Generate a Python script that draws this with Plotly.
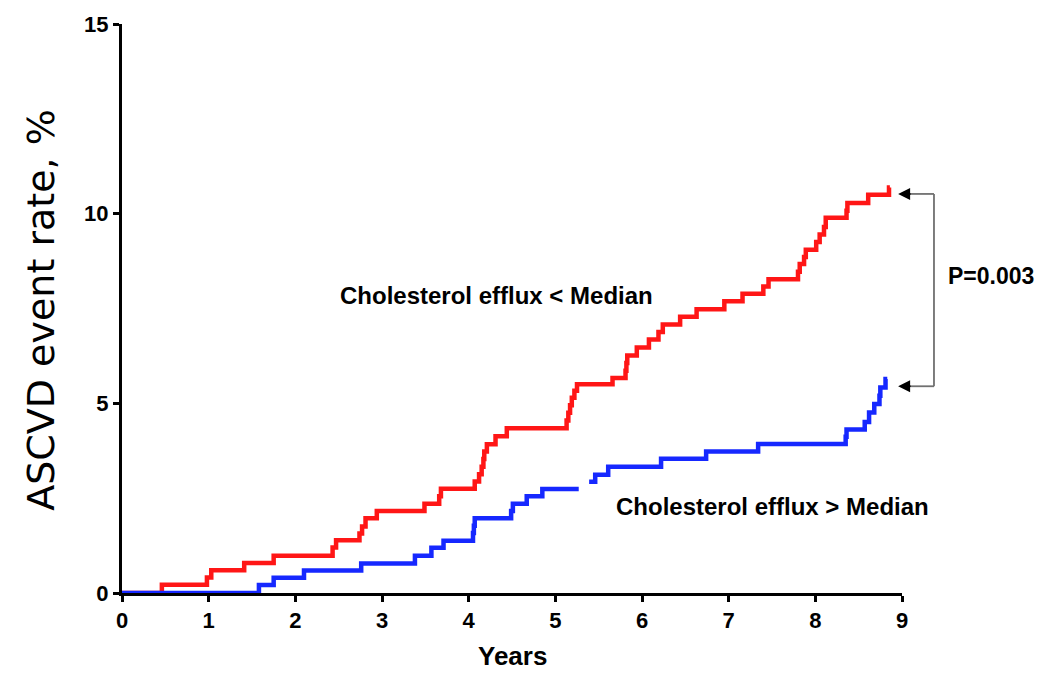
import plotly.graph_objects as go

# Kaplan-Meier style step data (years, event rate %)
red_t = [0, 0.46, 0.98, 1.03, 1.41, 1.75, 2.43, 2.47, 2.74, 2.77, 2.81, 2.94,
         3.49, 3.66, 3.68, 4.07, 4.12, 4.15, 4.17, 4.18, 4.21, 4.31, 4.44,
         5.13, 5.15, 5.17, 5.19, 5.22, 5.25, 5.66, 5.81, 5.82, 5.83,
         5.94, 6.08, 6.19, 6.24, 6.44, 6.63, 6.95, 7.16, 7.40, 7.46,
         7.80, 7.82, 7.87, 7.89, 8.01, 8.05, 8.10, 8.12, 8.36, 8.37,
         8.61, 8.85, 8.86]
red_v = [0, 0.22, 0.41, 0.60, 0.79, 0.98, 1.20, 1.39, 1.57, 1.75, 1.97, 2.16,
         2.35, 2.55, 2.75, 2.94, 3.13, 3.33, 3.53, 3.73, 3.92, 4.13, 4.34,
         4.55, 4.75, 4.95, 5.15, 5.33, 5.50, 5.67, 5.86, 6.06, 6.26,
         6.47, 6.68, 6.88, 7.08, 7.28, 7.48, 7.69, 7.89, 8.08, 8.27,
         8.47, 8.67, 8.86, 9.05, 9.25, 9.45, 9.65, 9.89, 10.08, 10.28,
         10.50, 10.69, 10.69]

blue_t = [0, 1.58, 1.75, 2.10, 2.76, 3.38, 3.57, 3.71, 4.05, 4.06, 4.07,
          4.49, 4.51, 4.67, 4.85, 5.27, None, 5.39, 5.46, 5.61,
          6.22, 6.74, 7.34, 8.35, 8.36, 8.57, 8.62, 8.68, 8.74, 8.75, 8.81, 8.83]
blue_v = [0, 0.21, 0.40, 0.59, 0.78, 0.98, 1.19, 1.38, 1.58, 1.77, 1.97,
          2.16, 2.35, 2.55, 2.74, 2.74, None, 2.93, 3.12, 3.33,
          3.54, 3.73, 3.93, 4.12, 4.31, 4.51, 4.76, 4.98, 5.20, 5.42, 5.64, 5.64]

x_ticks = [0, 1, 2, 3, 4, 5, 6, 7, 8, 9]
y_ticks = [0, 5, 10, 15]

label_low = "Cholesterol efflux < Median"
label_high = "Cholesterol efflux > Median"
p_text = "P=0.003"
x_title = "Years"
y_title = "ASCVD event rate, %"

RED = "rgb(255,22,22)"
BLUE = "rgb(22,40,255)"
BOLD = "Liberation Sans, Arial, sans-serif"

fig = go.Figure()
fig.add_trace(go.Scatter(x=red_t, y=red_v, mode="lines", line_shape="hv",
                         line=dict(color=RED, width=4.5), connectgaps=False,
                         showlegend=False, hoverinfo="skip"))
fig.add_trace(go.Scatter(x=blue_t, y=blue_v, mode="lines", line_shape="hv",
                         line=dict(color=BLUE, width=4.5), connectgaps=False,
                         showlegend=False, hoverinfo="skip"))

YMAX = 15
arrow_top = 10.52
arrow_bot = 5.45
bracket_x = 1.041
tip_x = 0.995

fig.update_layout(
    width=1055, height=673,
    margin=dict(l=122, r=153, t=19, b=80),
    paper_bgcolor="white", plot_bgcolor="white",
    xaxis=dict(range=[0, 9], tickvals=x_ticks, ticktext=[str(v) for v in x_ticks],
               showgrid=False, zeroline=False, showline=True, linecolor="black",
               linewidth=3, ticks="outside", ticklen=6, tickwidth=2.5, tickcolor="black",
               tickfont=dict(family=BOLD, size=22, color="black", weight="bold"),
               layer="below traces"),
    yaxis=dict(range=[0, YMAX], tickvals=y_ticks, ticktext=[str(v) for v in y_ticks],
               showgrid=False, zeroline=False, showline=True, linecolor="black",
               linewidth=3, ticks="outside", ticklen=6, tickwidth=2.5, tickcolor="black",
               tickfont=dict(family=BOLD, size=22, color="black", weight="bold"),
               layer="below traces"),
    showlegend=False,
)

fig.add_annotation(text=y_title, xref="paper", yref="paper", x=-0.103, y=0.497,
                   textangle=-90, showarrow=False, xanchor="center", yanchor="middle",
                   font=dict(family="DejaVu Sans, sans-serif", size=38, color="black"))
fig.add_annotation(text=x_title, xref="paper", yref="paper", x=0.5, y=-0.1115,
                   showarrow=False, xanchor="center", yanchor="middle",
                   font=dict(family=BOLD, size=26, color="black", weight="bold"))
fig.add_annotation(text=label_low, x=4.32, y=7.85, showarrow=False,
                   xanchor="center", yanchor="middle",
                   font=dict(family=BOLD, size=24, color="black", weight="bold"))
fig.add_annotation(text=label_high, x=7.50, y=2.29, showarrow=False,
                   xanchor="center", yanchor="middle",
                   font=dict(family=BOLD, size=24, color="black", weight="bold"))
fig.add_annotation(text=p_text, xref="paper", yref="y", x=1.114, y=8.35, showarrow=False,
                   xanchor="center", yanchor="middle",
                   font=dict(family=BOLD, size=23, color="black", weight="bold"))

# bracket (gray) and arrowheads (black)
for yv in (arrow_top, arrow_bot):
    fig.add_shape(type="line", xref="paper", yref="paper",
                  x0=tip_x + 0.012, x1=bracket_x, y0=yv / YMAX, y1=yv / YMAX,
                  line=dict(color="#707070", width=1.8))
    fig.add_annotation(x=tip_x, y=yv / YMAX, xref="paper", yref="paper",
                       ax=14, ay=0, text="", showarrow=True, arrowhead=2,
                       arrowsize=1.6, arrowwidth=1.5, arrowcolor="black")
fig.add_shape(type="line", xref="paper", yref="paper",
              x0=bracket_x, x1=bracket_x, y0=arrow_bot / YMAX, y1=arrow_top / YMAX,
              line=dict(color="#707070", width=1.8))

fig.write_html("out.html")
